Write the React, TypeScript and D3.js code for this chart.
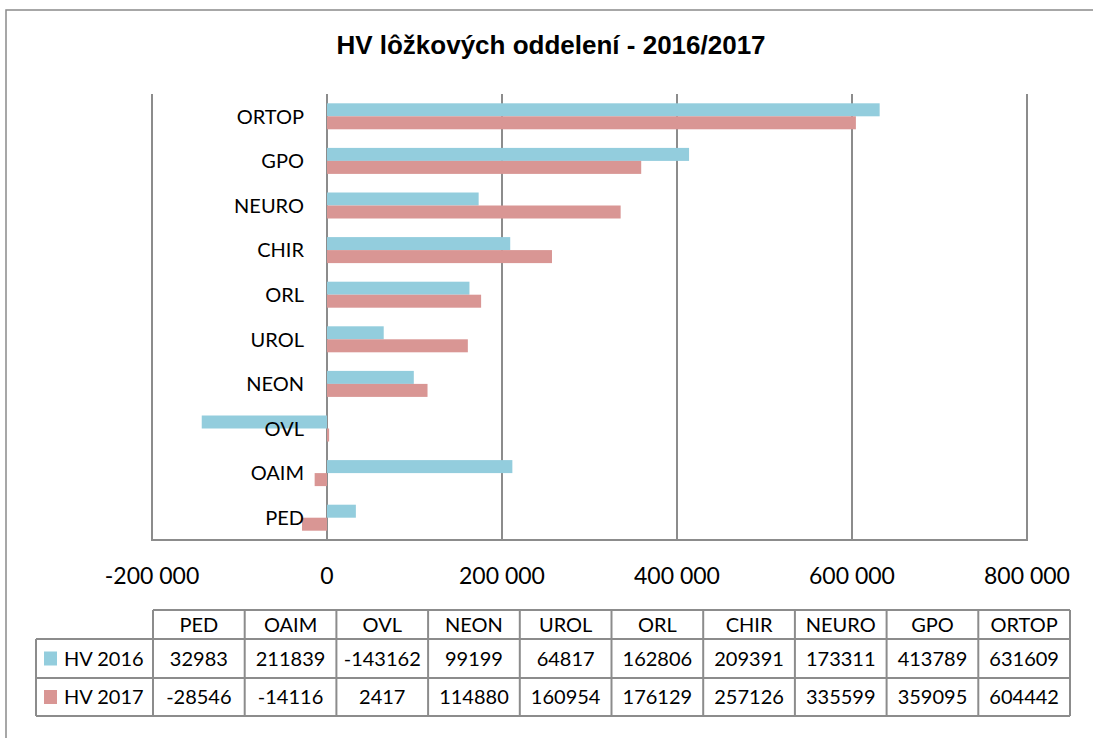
import { useEffect, useRef } from 'react'
import * as d3 from 'd3'

const CATEGORIES = ['PED', 'OAIM', 'OVL', 'NEON', 'UROL', 'ORL', 'CHIR', 'NEURO', 'GPO', 'ORTOP']
const HV_2016 = [32983, 211839, -143162, 99199, 64817, 162806, 209391, 173311, 413789, 631609]
const HV_2017 = [-28546, -14116, 2417, 114880, 160954, 176129, 257126, 335599, 359095, 604442]
const SERIES_NAMES = ['HV 2016', 'HV 2017']
const X_TICKS = [-200000, 0, 200000, 400000, 600000, 800000]
const TITLE = 'HV lôžkových oddelení - 2016/2017'

const COLORS = ['#93cddd', '#d99694']
const GRID = '#8c8c8c'
const FONT = 'Lato, "Open Sans", sans-serif'

export default function App() {
  const svgRef = useRef<SVGSVGElement>(null)
  const W = 1093
  const H = 738
  const P = { left: 152, right: 1027, top: 94, bottom: 540 }

  useEffect(() => {
    if (!svgRef.current) return
    const svg = d3.select(svgRef.current)
    svg.selectAll('*').remove()

    svg.append('rect').attr('x', 0).attr('y', 0).attr('width', W).attr('height', H).attr('fill', '#fff')
    // outer chart border (runs off the right/bottom edges)
    svg.append('rect').attr('x', 6).attr('y', 10).attr('width', W + 10).attr('height', H + 10)
      .attr('fill', 'none').attr('stroke', '#8a8a8a').attr('stroke-width', 1.5)

    svg.append('text').attr('x', 551).attr('y', 54)
      .attr('text-anchor', 'middle').attr('font-family', '"Liberation Sans", Arial, sans-serif')
      .attr('font-weight', 'bold').attr('font-size', 26).attr('fill', '#000')
      .text(TITLE)

    const x = d3.scaleLinear().domain([-200000, 800000]).range([P.left, P.right])
    const y = d3.scaleBand<string>().domain([...CATEGORIES].reverse()).range([P.top, P.bottom])
    const barH = 13

    // gridlines
    X_TICKS.forEach(t => {
      svg.append('line').attr('x1', x(t)).attr('x2', x(t)).attr('y1', P.top).attr('y2', P.bottom)
        .attr('stroke', GRID).attr('stroke-width', 2)
    })
    svg.append('line').attr('x1', P.left - 1).attr('x2', P.right + 1).attr('y1', P.bottom).attr('y2', P.bottom)
      .attr('stroke', GRID).attr('stroke-width', 2)

    // bars
    const seriesVals = [HV_2016, HV_2017]
    seriesVals.forEach((vals, si) => {
      svg.append('g').selectAll('rect').data(CATEGORIES).join('rect')
        .attr('x', (_, i) => x(Math.min(0, vals[i])))
        .attr('width', (_, i) => Math.abs(x(vals[i]) - x(0)))
        .attr('y', c => (y(c) ?? 0) + y.bandwidth() / 2 - barH + si * barH)
        .attr('height', barH)
        .attr('fill', COLORS[si])
    })

    // category labels
    CATEGORIES.forEach(c => {
      svg.append('text').attr('x', x(0) - 23).attr('y', (y(c) ?? 0) + y.bandwidth() / 2)
        .attr('dy', '0.36em').attr('text-anchor', 'end')
        .attr('font-family', FONT).attr('font-size', 20).attr('fill', '#000').text(c)
    })

    // x tick labels
    const fmt = (v: number) => d3.format(',')(Math.abs(v)).replace(/,/g, ' ')
    X_TICKS.forEach(t => {
      svg.append('text').attr('x', x(t)).attr('y', 576).attr('dy', '0.36em')
        .attr('text-anchor', 'middle').attr('font-family', FONT).attr('font-size', 23)
        .attr('fill', '#000').text((t < 0 ? '-' : '') + fmt(t))
    })

    // data table
    const tLeft = 36
    const cStart = 153
    const cEnd = 1070
    const cw = (cEnd - cStart) / CATEGORIES.length
    const rows = [610, 639, 678, 716]
    const g = svg.append('g').attr('stroke', GRID).attr('stroke-width', 2)
    // horizontal lines
    g.append('line').attr('x1', cStart).attr('x2', cEnd).attr('y1', rows[0]).attr('y2', rows[0])
    rows.slice(1).forEach(r => g.append('line').attr('x1', tLeft).attr('x2', cEnd).attr('y1', r).attr('y2', r))
    // vertical lines
    g.append('line').attr('x1', tLeft).attr('x2', tLeft).attr('y1', rows[1]).attr('y2', rows[3])
    d3.range(CATEGORIES.length + 1).forEach(i => {
      const xx = cStart + i * cw
      g.append('line').attr('x1', xx).attr('x2', xx).attr('y1', rows[0]).attr('y2', rows[3])
    })

    const cellText = (tx: number, ty: number, s: string, anchor = 'middle') =>
      svg.append('text').attr('x', tx).attr('y', ty).attr('dy', '0.36em').attr('text-anchor', anchor)
        .attr('font-family', FONT).attr('font-size', 20).attr('fill', '#000').text(s)

    CATEGORIES.forEach((c, i) => {
      const cx = cStart + (i + 0.5) * cw
      cellText(cx, (rows[0] + rows[1]) / 2, c)
      seriesVals.forEach((vals, si) => {
        cellText(cx, (rows[si + 1] + rows[si + 2]) / 2, String(vals[i]))
      })
    })
    SERIES_NAMES.forEach((name, si) => {
      const cy = (rows[si + 1] + rows[si + 2]) / 2
      svg.append('rect').attr('x', 44).attr('y', cy - 7).attr('width', 13).attr('height', 14).attr('fill', COLORS[si])
      cellText(64, cy, name, 'start')
    })
  }, [])

  return (
    <svg
      ref={svgRef}
      width={W}
      height={H}
      style={{ position: 'absolute', left: 0, top: 0, display: 'block' }}
    />
  )
}
